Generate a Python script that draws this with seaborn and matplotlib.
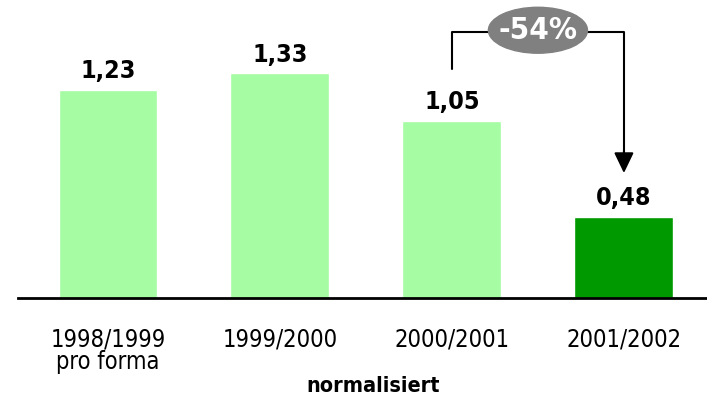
import numpy as np
import pandas as pd
import matplotlib
matplotlib.use('Agg')
import matplotlib.pyplot as plt
from matplotlib.patches import Ellipse
import seaborn as sns

# данные
categories = ['1998/1999\npro forma', '1999/2000', '2000/2001', '2001/2002']
values = [1.23, 1.33, 1.05, 0.48]
value_labels = ['1,23', '1,33', '1,05', '0,48']
bar_colors = ['#a6fca2', '#a6fca2', '#a6fca2', '#009900']
change_label = '-54%'
xlabel = 'normalisiert'

sns.set_style('white')
plt.rcParams['font.family'] = ['DejaVu Sans']
plt.rcParams['font.stretch'] = 'condensed'
plt.rcParams['text.color'] = 'black'
plt.rcParams['xtick.color'] = 'black'
plt.rcParams['axes.labelcolor'] = 'black'

df = pd.DataFrame({'cat': categories, 'val': values})

fig = plt.figure(figsize=(7.07, 4.05), dpi=100)
ax = fig.add_axes([18 / 707, 107 / 405, 689 / 707, 287 / 405])

sns.barplot(data=df, x='cat', y='val', hue='cat', palette=bar_colors,
            legend=False, width=0.575, saturation=1, ax=ax)

ax.set_xlim(-0.523, 3.483)
ax.set_ylim(0, 1.7)

for side in ['top', 'right', 'left']:
    ax.spines[side].set_visible(False)
ax.spines['bottom'].set_linewidth(2)
ax.spines['bottom'].set_color('black')
ax.set_yticks([])
ax.set_ylabel('')
ax.tick_params(axis='x', length=0, pad=21, labelsize=17)
ax.set_xlabel(xlabel, fontsize=15.5, fontweight='bold', labelpad=2)
ax.xaxis.label.set_x(0.515)
for lbl in ax.get_xticklabels():
    lbl.set_linespacing(0.92)

# подписи значений
for i, (v, t) in enumerate(zip(values, value_labels)):
    ax.annotate(t, (i, v), xytext=(0, 5), textcoords='offset points',
                ha='center', va='bottom', fontsize=18, fontweight='bold')

# стрелка изменения
y_top = 1.574
ax.plot([2, 2, 3, 3], [1.355, y_top, y_top, 0.86], color='black', lw=1.5,
        clip_on=False, zorder=3)
ax.annotate('', xy=(3, 0.74), xytext=(3, 0.87),
            arrowprops=dict(arrowstyle='-|>,head_width=0.6,head_length=1.25',
                            color='black', lw=1.5, shrinkA=0, shrinkB=0),
            annotation_clip=False)
ell = Ellipse((2.5, 1.586), width=0.576, height=0.272, color='#808080',
              zorder=4, clip_on=False)
ax.add_patch(ell)
ax.text(2.5, 1.586, change_label, ha='center', va='center', color='white',
        fontsize=22.5, fontweight='bold', zorder=5)

fig.savefig('out.png', dpi=100)
